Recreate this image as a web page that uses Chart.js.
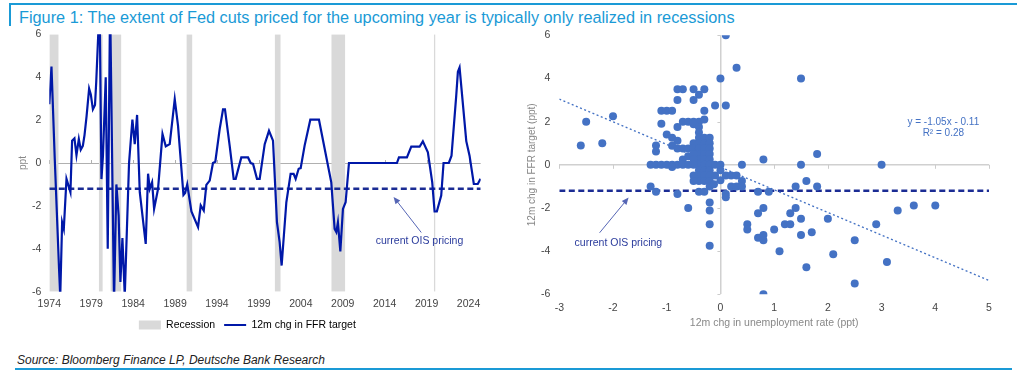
<!DOCTYPE html>
<html>
<head>
<meta charset="utf-8">
<script src="https://cdn.jsdelivr.net/npm/chart.js@4.4.1/dist/chart.umd.min.js"></script>
<style>
body{margin:0;background:#fff;width:1017px;height:373px;position:relative;overflow:hidden;font-family:"Liberation Sans",Arial,sans-serif}
#topline{position:absolute;left:9px;top:3px;width:1008px;height:2px;background:#1a9ad6}
#bar{position:absolute;left:9px;top:3px;width:2px;height:23px;background:#1a9ad6}
#title{position:absolute;left:19px;top:8px;font-size:16.3px;line-height:18px;color:#1a9ad6;white-space:nowrap}
#source{position:absolute;left:17px;top:353px;font-size:12px;line-height:14px;font-style:italic;color:#222}
#botline{position:absolute;left:15px;top:368px;width:997px;height:2px;background:#1a9ad6}
#c1{position:absolute;left:0;top:20px}
#c2{position:absolute;left:520px;top:20px}
</style>
</head>
<body>
<div id="topline"></div>
<div id="bar"></div>
<div id="title">Figure 1: The extent of Fed cuts priced for the upcoming year is typically only realized in recessions</div>
<canvas id="c1" width="520" height="321"></canvas>
<canvas id="c2" width="497" height="320"></canvas>
<div id="source">Source: Bloomberg Finance LP, Deutsche Bank Research</div>
<div id="botline"></div>
<script>
// left panel: 12m change in FFR target, in ppt
const yearTicks = [1974, 1979, 1984, 1989, 1994, 1999, 2004, 2009, 2014, 2019, 2024];
const recStart = [1974.0, 1979.9, 1981.29, 1990.35, 2000.88, 2007.63, 2019.86];
const recEnd   = [1975.12, 1980.38, 1982.6, 1991.07, 2001.6, 2009.3, 2020.06];
const months = [1974.0,1974.26,1974.65,1975.3,1975.53,1975.73,1976.05,1976.52,1976.72,1977.0,
  1977.24,1977.52,1977.75,1978.0,1978.2,1978.45,1978.75,1978.95,1979.2,1979.45,
  1979.6,1980.0,1980.22,1980.4,1980.73,1980.97,1981.25,1981.72,1982.0,1982.27,
  1982.48,1982.72,1983.0,1983.51,1983.91,1984.19,1984.47,1984.79,1985.5,1985.78,
  1985.98,1986.26,1986.5,1986.97,1987.5,1987.89,1988.36,1988.96,1989.35,1990.0,
  1990.2,1990.45,1990.95,1991.74,1992.06,1992.42,1992.73,1993.13,1993.52,1993.8,
  1994.32,1994.72,1994.95,1995.51,1995.99,1996.23,1996.9,1997.7,1998.02,1998.3,
  1998.77,1999.09,1999.69,2000.2,2000.68,2001.15,2001.47,2001.71,2002.27,2002.78,
  2003.14,2003.38,2003.74,2003.98,2004.45,2005.13,2006.16,2007.63,2008.03,2008.23,
  2008.42,2008.71,2009.02,2009.34,2009.74,2015.46,2015.7,2016.65,2017.17,2018.16,
  2018.55,2019.15,2019.67,2019.95,2020.22,2020.74,2021.02,2021.65,2021.97,2022.53,
  2022.73,2022.93,2023.73,2024.12,2024.63,2025.1,2025.43];
const ffrChg = [2.74,4.5,0.2,-6.3,-2.76,-3.07,-0.74,-1.36,1.04,1.15,
  0.37,1.12,0.62,0.8,1.3,2.2,3.47,3.2,2.5,2.7,
  3.8,7.5,-0.75,0.34,4.0,-4.0,7.5,-6.5,-1.0,-2.45,
  -5.55,-3.5,-6.2,0.0,2.02,0.88,2.24,-1.36,-3.77,-0.5,
  -1.21,-0.9,-2.14,-1.21,1.35,0.78,0.88,2.98,1.74,-1.49,
  -1.4,-1.0,-2.26,-2.99,-1.98,-2.22,-1.02,-0.82,0.0,0.06,
  1.58,2.5,2.5,0.81,-0.74,-0.74,0.26,0.26,0.0,-0.04,
  -0.74,-0.74,0.88,1.5,1.04,-2.76,-3.69,-4.78,-1.83,-0.51,
  -0.51,-0.74,-0.27,-0.24,0.81,2.02,2.02,-0.9,-3.07,-3.22,
  -2.76,-4.12,-2.14,-1.83,0.0,0.0,0.26,0.26,0.76,0.76,
  1.01,0.5,-0.9,-2.26,-2.26,-1.52,0.0,0.0,0.34,3.13,
  4.25,4.45,1.02,0.34,-0.98,-0.98,-0.74];
const oisPricing = -1.2;
const xStart = 1974, xEnd = 2025.45;
const yMin = -6, yMax = 6;

// right panel: 12m chg in unemployment rate vs 12m chg in FFR target
const scatterPts = [
  [0.1,6],[0.3,4.5],[0,4],[1.5,4],[-0.1,2.75],[0.1,2.75],
  [-0.8,3.5],[-0.7,3.5],[-0.5,3.5],[-0.3,3.5],[-0.4,3.25],[-0.8,3],[-0.5,3],
  [-1.1,2.5],[-1.0,2.5],[-0.9,2.5],[-0.3,2.5],
  [-2.5,2],[-2.0,2.25],[-2.2,1],[-2.6,0.9],
  [-1.1,1.9],[-0.8,1.75],[-0.7,2],[-0.6,2],[-0.5,2],[-0.4,2],[-0.3,2.1],[-0.5,1.88],[-0.4,1.75],[-0.4,1.5],
  [-1.0,1.4],[-0.9,1.25],[-0.8,1.12],[-0.5,1.0],
  [-1.2,0.9],[-1.2,0.62],[-0.9,0.88],[-0.8,0.75],[-0.7,0.75],[-0.6,0.75],[-0.5,0.75],
  [-0.7,0.25],[-0.6,0.4],
  [-0.4,1.25],[-0.4,1.0],[-0.4,0.75],[-0.4,0.5],[-0.4,0.25],[-0.4,0],[-0.4,-0.25],[-0.4,-0.5],[-0.4,-0.75],
  [-0.3,1.25],[-0.3,1.0],[-0.3,0.75],[-0.3,0.5],[-0.3,0.25],[-0.3,0],[-0.3,-0.25],[-0.3,-0.5],[-0.3,-0.75],
  [-0.2,1.25],[-0.2,1.0],[-0.2,0.75],[-0.2,0.5],[-0.2,0.25],[-0.2,0],[-0.2,-0.25],[-0.2,-0.5],[-0.2,-0.75],[-0.2,-1.0],
  [-0.5,0.5],[-0.5,0.25],[-0.5,-0.5],[-0.5,-0.75],
  [-1.3,0],[-1.2,0],[-1.1,0],[-1.0,0],[-0.9,0],[-0.8,0],[-0.7,0],[-0.6,0],[-0.5,0],[-0.1,0],[0.0,0],[0.4,0],
  [-0.9,-0.1],
  [-0.1,-0.5],[0,-0.25],[0,-0.72],[-0.12,-0.9],[0.1,-0.5],[0.2,-0.5],[0.3,-0.5],[0.4,-0.75],[0.2,-1.0],[0.3,-1.0],[0.4,-1.0],
  [-1.3,-1.0],[-1.2,-1.25],[-0.8,-1.35],[-0.4,-1.25],[-0.3,-1.25],[0.1,-1.35],[0.1,-1.5],
  [-0.6,-2.0],[-0.2,-1.75],[-0.2,-2.12],[-0.2,-2.75],[-0.2,-3.75],
  [0.8,0.25],[1.5,0],[1.8,0.5],[3.0,0],
  [0.7,-1.25],[0.9,-1.25],[1.4,-1.0],[1.6,-0.75],[1.8,-1.0],
  [0.8,-2.0],[0.7,-2.25],[1.4,-2.0],[1.3,-2.25],[1.5,-2.5],[2.0,-2.5],[1.2,-2.75],[1.3,-2.75],
  [0.5,-2.75],[0.5,-3.0],[1.0,-3.0],[1.7,-3.12],[1.5,-3.25],[0.7,-3.38],[0.8,-3.25],[0.8,-3.5],
  [1.1,-4.0],[2.1,-4.15],[1.6,-4.75],[0.8,-6.0],
  [2.5,-3.5],[2.9,-2.75],[3.3,-2.12],[3.6,-1.88],[4.0,-1.88],[3.1,-4.5],[2.5,-5.5]
];
const trendX = [-3, 5];
const trendY = [3.04, -5.36];
const uMin = -3, uMax = 5;

const navy = '#0018A8';
const dashNavy = '#1b2c94';
const dotBlue = '#4472C4';
const recGrey = '#d9d9d9';

Chart.defaults.font.family = '"Liberation Sans", Arial, sans-serif';
Chart.defaults.color = '#444';

// text + arrow notes placed in data units
const notes = {
  id: 'notes',
  afterDatasetsDraw(chart, args, opts) {
    const {ctx, scales: {x, y}} = chart;
    ctx.save();
    (opts.items || []).forEach(n => {
      if (n.text) {
        ctx.fillStyle = n.color;
        ctx.font = (n.size || 10.5) + 'px "Liberation Sans", Arial, sans-serif';
        ctx.textAlign = 'center';
        ctx.textBaseline = 'middle';
        ctx.fillText(n.text, x.getPixelForValue(n.x), y.getPixelForValue(n.y));
      } else {
        const x1 = x.getPixelForValue(n.x1), y1 = y.getPixelForValue(n.y1);
        const x2 = x.getPixelForValue(n.x2), y2 = y.getPixelForValue(n.y2);
        const a = Math.atan2(y2 - y1, x2 - x1);
        ctx.strokeStyle = n.color; ctx.fillStyle = n.color; ctx.lineWidth = 1;
        ctx.beginPath(); ctx.moveTo(x1, y1);
        ctx.lineTo(x2 - 5 * Math.cos(a), y2 - 5 * Math.sin(a)); ctx.stroke();
        ctx.beginPath();
        ctx.moveTo(x2, y2);
        ctx.lineTo(x2 - 7 * Math.cos(a) + 3 * Math.sin(a), y2 - 7 * Math.sin(a) - 3 * Math.cos(a));
        ctx.lineTo(x2 - 7 * Math.cos(a) - 3 * Math.sin(a), y2 - 7 * Math.sin(a) + 3 * Math.cos(a));
        ctx.closePath(); ctx.fill();
      }
    });
    ctx.restore();
  }
};

// little tick marks sitting on the zero lines
const zeroTicks = {
  id: 'zeroTicks',
  beforeDatasetsDraw(chart, args, opts) {
    const {ctx, scales: {x, y}} = chart;
    ctx.save();
    ctx.strokeStyle = opts.color; ctx.lineWidth = 1;
    const y0 = y.getPixelForValue(0);
    if (opts.xLen) x.ticks.forEach(t => {
      const px = Math.round(x.getPixelForValue(t.value)) + 0.5;
      ctx.beginPath(); ctx.moveTo(px, y0); ctx.lineTo(px, y0 + opts.xLen); ctx.stroke();
    });
    if (opts.yLen) {
      const x0 = x.getPixelForValue(0);
      y.ticks.forEach(t => {
        const py = Math.round(y.getPixelForValue(t.value)) + 0.5;
        ctx.beginPath(); ctx.moveTo(x0, py); ctx.lineTo(x0 - opts.yLen, py); ctx.stroke();
      });
    }
    ctx.restore();
  }
};

const zeroGrid = col => c => c.tick.value === 0 ? col : 'rgba(0,0,0,0)';

const recessionSets = recStart.map((s, i) => ({
  label: 'Recession',
  data: [{x: s, y: yMax}, {x: recEnd[i], y: yMax}],
  fill: {value: yMin},
  backgroundColor: recGrey,
  borderColor: 'rgba(0,0,0,0)',
  borderWidth: 0,
  pointRadius: 0
}));

new Chart(document.getElementById('c1'), {
  type: 'line',
  data: {
    datasets: [
      {
        label: '12m chg in FFR target',
        data: months.map((m, i) => ({x: m, y: ffrChg[i]})),
        borderColor: navy, borderWidth: 2.2, pointRadius: 0, tension: 0, fill: false
      },
      {
        label: 'OIS',
        data: [{x: xStart, y: oisPricing}, {x: xEnd, y: oisPricing}],
        borderColor: dashNavy, borderWidth: 2.4, borderDash: [6, 3.5], pointRadius: 0, fill: false
      },
      ...recessionSets
    ]
  },
  options: {
    responsive: false,
    animation: false,
    layout: {padding: {left: 14, right: 39.3, top: 13.3, bottom: 0.8}},
    plugins: {
      tooltip: {enabled: false},
      legend: {
        position: 'bottom',
        labels: {
          usePointStyle: true, pointStyleWidth: 22, boxHeight: 9, padding: 9,
          font: {size: 10.5}, color: '#444',
          generateLabels: () => [
            {text: 'Recession', fillStyle: recGrey, strokeStyle: recGrey, lineWidth: 0, pointStyle: 'rect', hidden: false, datasetIndex: 2},
            {text: '12m chg in FFR target', fillStyle: navy, strokeStyle: navy, lineWidth: 2, pointStyle: 'line', hidden: false, datasetIndex: 0}
          ]
        }
      },
      zeroTicks: {color: '#b0b0b0', xLen: -3},
      notes: {items: [
        {x1: 2018.36, y1: -3.24, x2: 2015.06, y2: -1.58, color: '#5565b5'},
        {text: 'current OIS pricing', x: 2018.15, y: -3.63, color: '#2a3b9c'}
      ]}
    },
    scales: {
      x: {
        type: 'linear', min: xStart, max: xEnd,
        afterBuildTicks: s => { s.ticks = yearTicks.map(v => ({value: v})); },
        afterFit: s => { s.height = 19; },
        grid: {display: false, drawTicks: false}, border: {display: false},
        ticks: {padding: 6, font: {size: 10.5}, color: '#444', maxRotation: 0, autoSkip: false, callback: v => String(v)}
      },
      y: {
        min: yMin, max: yMax,
        afterFit: s => { s.width = 35.3; },
        ticks: {stepSize: 2, padding: 8, font: {size: 10.5}, color: '#444'},
        grid: {color: zeroGrid('#b0b0b0'), drawTicks: false, lineWidth: 1},
        border: {display: false},
        title: {display: true, text: 'ppt', color: '#888', font: {size: 10}, padding: {top: 3, bottom: 0}}
      }
    }
  },
  plugins: [zeroTicks, notes]
});

new Chart(document.getElementById('c2'), {
  type: 'scatter',
  data: {
    datasets: [
      {
        label: 'obs',
        data: scatterPts.map(p => ({x: p[0], y: p[1]})),
        pointRadius: 4, pointBackgroundColor: dotBlue, pointBorderWidth: 0, borderColor: dotBlue
      },
      {
        type: 'line', label: 'trend',
        data: trendX.map((v, i) => ({x: v, y: trendY[i]})),
        borderColor: dotBlue, borderWidth: 1.3, borderDash: [2, 2.5], pointRadius: 0, fill: false
      },
      {
        type: 'line', label: 'OIS',
        data: [{x: uMin, y: oisPricing}, {x: uMax, y: oisPricing}],
        borderColor: dashNavy, borderWidth: 2.4, borderDash: [6, 3.5], pointRadius: 0, fill: false
      }
    ]
  },
  options: {
    responsive: false,
    animation: false,
    layout: {padding: {left: 0, right: 28, top: 13.3, bottom: 0}},
    plugins: {
      legend: {display: false},
      tooltip: {enabled: false},
      zeroTicks: {color: '#cccccc', xLen: 4, yLen: 3},
      notes: {items: [
        {x1: -2.25, y1: -3.15, x2: -1.71, y2: -1.52, color: '#5565b5'},
        {text: 'current OIS pricing', x: -1.9, y: -3.65, color: '#2a3b9c'},
        {text: 'y = -1.05x - 0.11', x: 4.15, y: 1.98, color: dotBlue, size: 10},
        {text: 'R\u00b2 = 0.28', x: 4.15, y: 1.44, color: dotBlue, size: 10}
      ]}
    },
    scales: {
      x: {
        type: 'linear', min: uMin, max: uMax,
        afterFit: s => { s.height = 45.7; },
        ticks: {stepSize: 1, padding: 8, font: {size: 10.5}, color: '#444'},
        grid: {color: zeroGrid('#d0d0d0'), drawTicks: false, lineWidth: 1.5},
        border: {display: false},
        title: {display: true, text: '12m chg in unemployment rate (ppt)', color: '#888', font: {size: 10.5}, padding: {top: 0, bottom: 11}}
      },
      y: {
        min: yMin, max: yMax,
        afterFit: s => { s.width = 39.3; },
        ticks: {stepSize: 2, padding: 9, font: {size: 10.5}, color: '#444'},
        grid: {color: zeroGrid('#d0d0d0'), drawTicks: false, lineWidth: 1.5},
        border: {display: false},
        title: {display: true, text: '12m chg in FFR target (ppt)', color: '#888', font: {size: 10}, padding: {top: 6.5, bottom: 0}}
      }
    }
  },
  plugins: [zeroTicks, notes]
});
</script>
</body>
</html>
